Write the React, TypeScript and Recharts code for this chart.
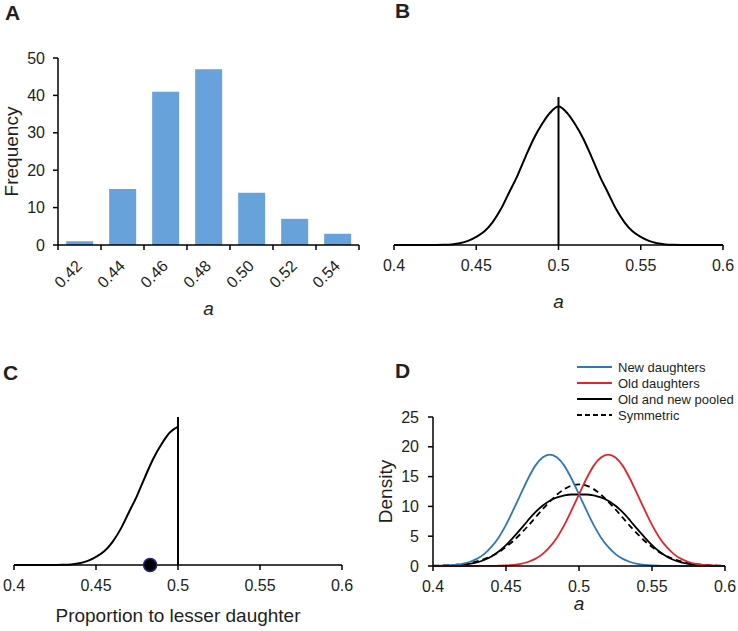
import React from 'react';
import {
  BarChart,
  Bar,
  XAxis,
  YAxis,
  LineChart,
  Line,
  ComposedChart,
  ReferenceLine,
  ReferenceDot,
} from 'recharts';

// ---------- Data ----------
// Panel A: histogram of a
const binLabels = ['0.42', '0.44', '0.46', '0.48', '0.50', '0.52', '0.54'];
const binCounts = [1, 15, 41, 47, 14, 7, 3];
const freqTicks = [0, 10, 20, 30, 40, 50];

// shared x grid for density curves
const densityX = [
  0.4, 0.405, 0.41, 0.415, 0.42, 0.425, 0.43, 0.435, 0.44, 0.445, 0.45,
  0.455, 0.46, 0.465, 0.47, 0.475, 0.48, 0.485, 0.49, 0.495, 0.5,
  0.505, 0.51, 0.515, 0.52, 0.525, 0.53, 0.535, 0.54, 0.545, 0.55,
  0.555, 0.56, 0.565, 0.57, 0.575, 0.58, 0.585, 0.59, 0.595, 0.6,
];
const aTicks = [0.4, 0.45, 0.5, 0.55, 0.6];

// Panel B: density of a (symmetric)
const densityB = [
  0, 0, 0, 0, 0, 0.01, 0.04, 0.15, 0.45, 1.1, 2.2,
  3.7, 6.2, 9.7, 14.2, 18.7, 23.9, 28.8, 32.7, 35.8, 37.4,
  35.8, 32.7, 28.8, 23.9, 18.7, 14.2, 9.7, 6.2, 3.7, 2.2,
  1.1, 0.45, 0.15, 0.04, 0.01, 0, 0, 0, 0, 0,
];

// Panel C: proportion to lesser daughter
const lesserX = [
  0.4, 0.405, 0.41, 0.415, 0.42, 0.425, 0.43, 0.435, 0.44, 0.445, 0.45,
  0.455, 0.46, 0.465, 0.47, 0.475, 0.48, 0.485, 0.49, 0.495, 0.5,
];
const lesserDensity = [
  0, 0, 0, 0, 0, 0.01, 0.04, 0.15, 0.45, 1.1, 2.2,
  3.7, 6.2, 9.7, 14.2, 18.7, 23.9, 28.8, 32.7, 35.8, 37.4,
];
const observedLesser = 0.483;

// Panel D
const newDaughters = [
  0.02, 0.04, 0.08, 0.18, 0.35, 0.67, 1.19, 2.0, 3.2, 4.8, 6.9,
  9.4, 12.0, 14.6, 16.8, 18.2, 18.7, 18.2, 16.8, 14.6, 12.0,
  9.4, 6.9, 4.8, 3.2, 2.0, 1.19, 0.67, 0.35, 0.18, 0.08,
  0.04, 0.02, 0.01, 0, 0, 0, 0, 0, 0, 0,
];
const oldDaughters = [
  0, 0, 0, 0, 0, 0, 0, 0.01, 0.02, 0.04, 0.08,
  0.18, 0.35, 0.67, 1.19, 2.0, 3.2, 4.8, 6.9, 9.4, 12.0,
  14.6, 16.8, 18.2, 18.7, 18.2, 16.8, 14.6, 12.0, 9.4, 6.9,
  4.8, 3.2, 2.0, 1.19, 0.67, 0.35, 0.18, 0.08, 0.04, 0.02,
];
const pooledDaughters = [
  0.01, 0.02, 0.04, 0.09, 0.18, 0.34, 0.6, 1.0, 1.61, 2.42, 3.49,
  4.79, 6.18, 7.64, 9.0, 10.1, 10.95, 11.5, 11.85, 12.0, 12.0,
  12.0, 11.85, 11.5, 10.95, 10.1, 9.0, 7.64, 6.18, 4.79, 3.49,
  2.42, 1.61, 1.0, 0.6, 0.34, 0.18, 0.09, 0.04, 0.02, 0.01,
];
const symmetricDensity = [
  0.04, 0.07, 0.12, 0.2, 0.32, 0.5, 0.77, 1.15, 1.66, 2.3, 3.2,
  4.2, 5.4, 6.7, 8.1, 9.5, 10.8, 12.0, 12.9, 13.5, 13.7,
  13.5, 12.9, 12.0, 10.8, 9.5, 8.1, 6.7, 5.4, 4.2, 3.2,
  2.3, 1.66, 1.15, 0.77, 0.5, 0.32, 0.2, 0.12, 0.07, 0.04,
];
const densityTicks = [0, 5, 10, 15, 20, 25];

const legendItems = [
  { name: 'New daughters', color: '#2E78B7', dash: '' },
  { name: 'Old daughters', color: '#E0262C', dash: '' },
  { name: 'Old and new pooled', color: '#000000', dash: '' },
  { name: 'Symmetric', color: '#000000', dash: '5 3' },
];

// ---------- Tables ----------
const histData = binLabels.map((bin, i) => ({ bin, count: binCounts[i] }));
const dataB = densityX.map((x, i) => ({ x, y: densityB[i] }));
const dataC = lesserX.map((x, i) => ({ x, y: lesserDensity[i] }));
const dataD = densityX.map((x, i) => ({
  x,
  newD: newDaughters[i],
  oldD: oldDaughters[i],
  pooled: pooledDaughters[i],
  sym: symmetricDensity[i],
}));

// ---------- Styles ----------
const FONT = '"Liberation Sans", Arial, Helvetica, sans-serif';
const TEXT = '#231F20';
const tickStyle = { fontSize: 16, fill: TEXT, fontFamily: FONT };
const axisLine = { stroke: '#000', strokeWidth: 1.5 };

const RotatedTick = (props: any) => {
  const { x, y, payload, index, visibleTicksCount } = props;
  const half = payload && typeof payload.offset === 'number' && payload.offset > 0 ? payload.offset : 21.5;
  const ax = x + 3.5;
  const ay = y + 22;
  return (
    <g>
      <line x1={x - half} x2={x - half} y1={y} y2={y + 5} stroke="#000" strokeWidth={1.5} />
      {index === visibleTicksCount - 1 && (
        <line x1={x + half} x2={x + half} y1={y} y2={y + 5} stroke="#000" strokeWidth={1.5} />
      )}
      <text
        x={ax}
        y={ay}
        transform={`rotate(-45 ${ax} ${ay})`}
        textAnchor="end"
        fontSize={16}
        fill={TEXT}
        fontFamily={FONT}
      >
        {payload.value}
      </text>
    </g>
  );
};

const italicA = (offset: number) => ({
  value: 'a',
  position: 'insideTop' as const,
  offset,
  fontSize: 19,
  fontStyle: 'italic',
  fill: TEXT,
  fontFamily: FONT,
  style: { fontSize: 19, fontStyle: 'italic', fill: TEXT, fontFamily: FONT },
});

const yTitle = (value: string, offset: number) => ({
  value,
  angle: -90,
  position: 'insideLeft' as const,
  offset,
  fontSize: 19,
  fill: TEXT,
  fontFamily: FONT,
  style: { fontSize: 19, fill: TEXT, fontFamily: FONT, textAnchor: 'middle' as const },
});

export default function App() {
  return (
    <div
      style={{
        position: 'absolute',
        left: 0,
        top: 0,
        width: 738,
        height: 631,
        background: '#fff',
        overflow: 'hidden',
        fontFamily: FONT,
      }}
    >
      {/* Panel A */}
      <div style={{ position: 'absolute', left: 0, top: 0 }}>
        <BarChart
          width={370}
          height={330}
          data={histData}
          margin={{ top: 58, right: 11, bottom: 0, left: 0 }}
          barCategoryGap="19%"
        >
          <XAxis
            dataKey="bin"
            type="category"
            height={85}
            interval={0}
            tickLine={false}
            tickSize={0}
            tickMargin={0}
            axisLine={axisLine}
            tick={<RotatedTick />}
            label={italicA(57)}
          />
          <YAxis
            width={58}
            domain={[0, 50]}
            ticks={freqTicks}
            interval={0}
            tickSize={5}
            tickMargin={8}
            axisLine={axisLine}
            tickLine={axisLine}
            tick={tickStyle}
            label={yTitle('Frequency', 11)}
          />
          <Bar dataKey="count" fill="#67A3DA" isAnimationActive={false} />
        </BarChart>
      </div>

      {/* Panel B */}
      <div style={{ position: 'absolute', left: 370, top: 0 }}>
        <LineChart width={368} height={330} data={dataB} margin={{ top: 97, right: 15, bottom: 0, left: 24 }}>
          <XAxis
            dataKey="x"
            type="number"
            domain={[0.4, 0.6]}
            ticks={aTicks}
            interval={0}
            height={85}
            tickSize={5}
            tickMargin={10}
            axisLine={axisLine}
            tickLine={axisLine}
            tick={tickStyle}
            label={italicA(50)}
          />
          <YAxis hide domain={[0, 40]} />
          <Line
            dataKey="y"
            type="monotone"
            stroke="#000"
            strokeWidth={2}
            dot={false}
            isAnimationActive={false}
          />
          <ReferenceLine x={0.5} stroke="#000" strokeWidth={2} />
        </LineChart>
      </div>

      {/* Panel C */}
      <div style={{ position: 'absolute', left: 0, top: 310 }}>
        <ComposedChart width={370} height={321} data={dataC} margin={{ top: 107, right: 28, bottom: 0, left: 14 }}>
          <XAxis
            dataKey="x"
            type="number"
            domain={[0.4, 0.6]}
            ticks={aTicks}
            interval={0}
            height={66}
            tickSize={5}
            tickMargin={10}
            axisLine={axisLine}
            tickLine={axisLine}
            tick={tickStyle}
            label={{
              value: 'Proportion to lesser daughter',
              position: 'insideTop',
              offset: 44,
              fontSize: 19,
              fill: TEXT,
              fontFamily: FONT,
              style: { fontSize: 19, fill: TEXT, fontFamily: FONT },
            }}
          />
          <YAxis hide domain={[0, 40]} />
          <Line
            dataKey="y"
            type="monotone"
            stroke="#000"
            strokeWidth={2}
            dot={false}
            isAnimationActive={false}
          />
          <ReferenceLine x={0.5} stroke="#000" strokeWidth={2} />
          <ReferenceDot x={observedLesser} y={0} r={6.5} fill="#000" stroke="#23237A" strokeWidth={1.5} />
        </ComposedChart>
      </div>

      {/* Panel D */}
      <div style={{ position: 'absolute', left: 370, top: 310 }}>
        <LineChart width={368} height={321} data={dataD} margin={{ top: 107, right: 13, bottom: 0, left: 0 }}>
          <XAxis
            dataKey="x"
            type="number"
            domain={[0.4, 0.6]}
            ticks={aTicks}
            interval={0}
            height={65}
            tickSize={5}
            tickMargin={10}
            axisLine={axisLine}
            tickLine={axisLine}
            tick={tickStyle}
            label={italicA(31)}
          />
          <YAxis
            width={63}
            domain={[0, 25]}
            ticks={densityTicks}
            interval={0}
            tickSize={5}
            tickMargin={9}
            axisLine={axisLine}
            tickLine={axisLine}
            tick={tickStyle}
            label={yTitle('Density', 15)}
          />
          <Line dataKey="sym" type="monotone" stroke="#000" strokeWidth={1.8} strokeDasharray="6 4" dot={false} isAnimationActive={false} />
          <Line dataKey="pooled" type="monotone" stroke="#000" strokeWidth={1.8} dot={false} isAnimationActive={false} />
          <Line dataKey="newD" type="monotone" stroke="#2E78B7" strokeWidth={1.8} dot={false} isAnimationActive={false} />
          <Line dataKey="oldD" type="monotone" stroke="#E0262C" strokeWidth={1.8} dot={false} isAnimationActive={false} />
        </LineChart>
      </div>

      {/* Panel letters and legend */}
      <svg
        width={738}
        height={631}
        style={{ position: 'absolute', left: 0, top: 0, pointerEvents: 'none' }}
      >
        <g fontFamily={FONT} fontWeight="bold" fontSize={21} fill={TEXT}>
          <text x={5} y={20}>A</text>
          <text x={395} y={18}>B</text>
          <text x={3} y={380}>C</text>
          <text x={395} y={378}>D</text>
        </g>
        <g fontFamily={FONT} fontSize={13} fill={TEXT}>
          {legendItems.map((item, i) => {
            const cy = 367 + i * 16;
            return (
              <g key={item.name}>
                <line
                  x1={577}
                  x2={612}
                  y1={cy}
                  y2={cy}
                  stroke={item.color}
                  strokeWidth={1.8}
                  strokeDasharray={item.dash || undefined}
                />
                <text x={618} y={cy + 4.5}>{item.name}</text>
              </g>
            );
          })}
        </g>
      </svg>
    </div>
  );
}
